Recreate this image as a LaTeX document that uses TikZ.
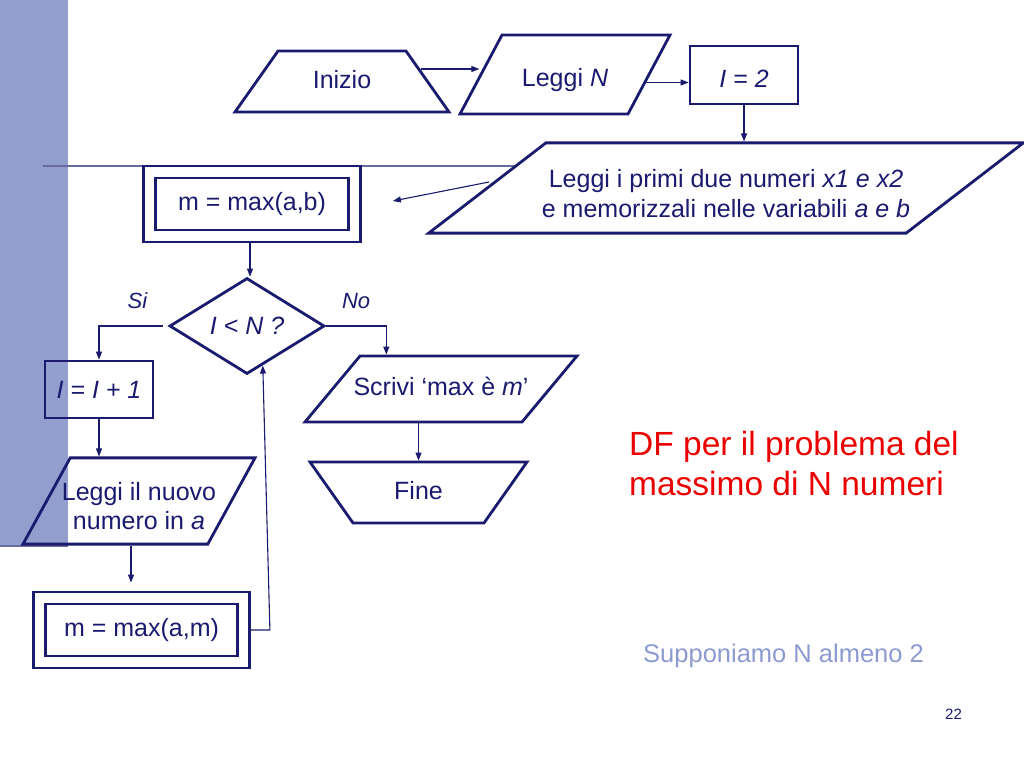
\documentclass[tikz,border=0pt]{standalone}
\usepackage{fontspec}
\setmainfont{Liberation Sans}
\usetikzlibrary{shapes.geometric, arrows.meta, calc}

\definecolor{navy}{RGB}{26,26,110}
\definecolor{barblue}{RGB}{145,158,206}
\definecolor{rulegrey}{RGB}{104,108,156}
\definecolor{notegrey}{RGB}{140,154,208}
\definecolor{titlered}{RGB}{235,0,0}

\begin{document}
\begin{tikzpicture}[
        x=1pt, y=-1pt,
        every node/.style={text=navy, font=\fontsize{25}{29.5}\selectfont},
        shp/.style={draw=navy, line width=2.8pt, inner sep=0pt},
        term/.style={shp, trapezium, trapezium stretches body},
        oneline/.style={text height=18pt, text depth=5pt},
        proc/.style={shp, rectangle},
        call/.style={draw=navy, line width=2.8pt, double, double distance=9.2pt, rectangle, inner sep=0pt, outer sep=7.4pt},
        dec/.style={shp, diamond},
        arr/.style={navy, line width=1.1pt, -{Triangle[length=8pt, width=6pt]}},
        lbl/.style={font=\fontsize{22}{26}\selectfont\itshape, inner sep=0pt}
    ]
    \useasboundingbox (0,0) rectangle (1024,768);

    % slide background
    \fill[barblue] (0,0) rectangle (68,547);
    \draw[rulegrey, line width=2pt] (0,546) -- (68,546);
    \draw[rulegrey, line width=2pt] (43,166) -- (700,166);

    % flowchart blocks
    \node[term, oneline, trapezium left angle=54.8, trapezium right angle=54.8, minimum width=214pt, inner ysep=19pt] (inizio) at (342,81.5) {Inizio};
    \node[term, text height=23pt, text depth=0pt, trapezium left angle=62, trapezium right angle=118, minimum width=210pt, inner ysep=28pt] (leggiN) at (565,74.5) {Leggi \textit{N}};
    \node[proc, minimum width=108pt, minimum height=58pt, text height=24pt, text depth=0pt] (idue) at (744,75) {\itshape I = 2};
    \node[term, fill=white, trapezium left angle=37.6, trapezium right angle=142.4, minimum width=592pt, inner ysep=15.75pt, inner xsep=-4pt, align=center] (big) at (726,188) {\rule{0pt}{29pt}Leggi i primi due numeri \textit{x1 e x2}\\e memorizzali nelle variabili \textit{a e b}};
    \node[call, minimum width=205pt, minimum height=64pt] (mab) at (252,204) {m = max(a,b)};
    \node[dec, minimum width=155pt, minimum height=96pt] (cond) at (247,326) {\itshape I < N ?};
    \node[proc, minimum width=108pt, minimum height=57pt] (inc) at (99,389.5) {\itshape I = I + 1};
    \node[term, oneline, trapezium left angle=50.2, trapezium right angle=129.8, minimum width=272pt, inner ysep=21.5pt, inner xsep=-7pt] (scrivi) at (441,389) {Scrivi ‘max è \textit{m}’};
    \node[term, oneline, trapezium left angle=125.2, trapezium right angle=125.2, minimum width=217pt, inner ysep=19pt] (fine) at (418.5,492.5) {Fine};
    \node[term, trapezium left angle=61.3, trapezium right angle=118.7, minimum width=232pt, inner ysep=14.25pt, inner xsep=-9pt, align=center] (nuovo) at (139,501) {\rule{0pt}{28pt}Leggi il nuovo\\numero in \textit{a}};
    \node[call, minimum width=204pt, minimum height=64pt] (mam) at (141.5,630) {m = max(a,m)};

    % free texts
    \node[font=\fontsize{33.5}{40}\selectfont, text=titlered, align=left, anchor=north west, inner sep=0pt] (title) at (629,431) {DF per il problema del\\massimo di N numeri};
    \node[font=\fontsize{25.5}{30}\selectfont, text=notegrey, anchor=base west, inner sep=0pt] (note) at (643,662) {Supponiamo N almeno 2};
    \node[font=\fontsize{15}{18}\selectfont, anchor=base west, inner sep=0pt] (pageno) at (945,719) {22};

    % connectors
    \coordinate (a1) at ($(inizio.east)+(-8,-12.5)$);
    \coordinate (a2) at ($(leggiN.east)+(-5,8)$);
    \coordinate (a4) at ($(big.west)+(4,-6)$);
    \coordinate (a4e) at ($(mab.east)+(31,-3)$);
    \coordinate (a5) at ($(mab.south)+(-2,0)$);
    \coordinate (s1) at ($(scrivi.top left corner)+(27,0)$);
    \coordinate (n1) at ($(nuovo.south)+(-8,0)$);

    \draw[arr] (a1) -- (a1 -| leggiN.west);
    \draw[arr] (a2) -- (a2 -| idue.west);
    \draw[arr] (idue.south) -- (idue.south |- big.north);
    \draw[arr] (a4) -- (a4e);
    \draw[arr] (a5) -- (a5 |- cond.north);
    \draw[arr] ($(cond.west)+(-5,0)$) -| node[lbl, pos=0.2, above=17pt] (si) {Si} (inc.north);
    \draw[arr] (cond.east) -| node[lbl, pos=0.25, above=17pt] (no) {No} (s1);
    \draw[arr] (scrivi.south -| fine.north) -- (fine.north);
    \draw[arr] (inc.south) -- (inc.south |- nuovo.north);
    \draw[arr, shorten >=8pt] (n1) -- (n1 |- mam.north);
    \draw[arr] (mam.east) -- ++(19,0) -- ($(cond.south)!0.2!(cond.east)$);
\end{tikzpicture}
\end{document}
